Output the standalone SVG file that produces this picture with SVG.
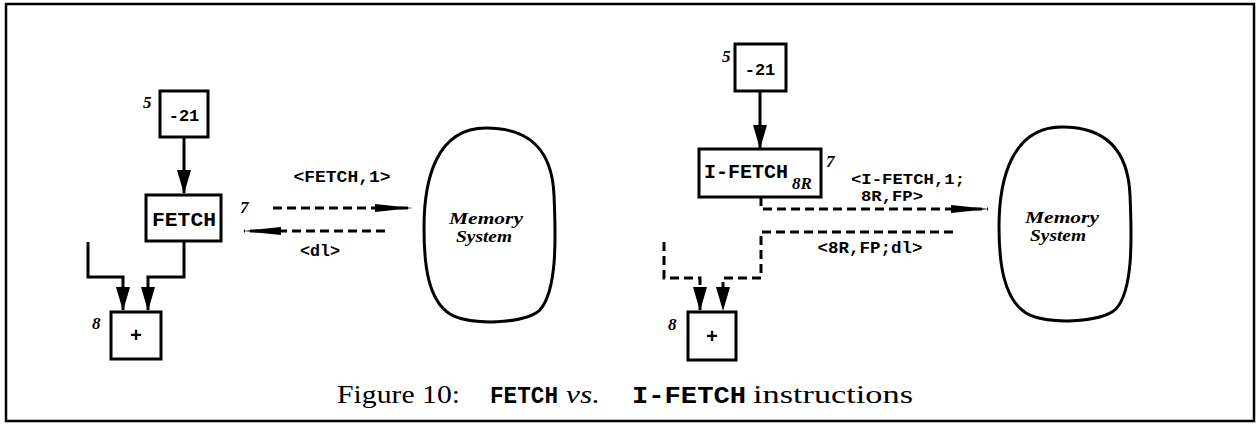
<svg xmlns="http://www.w3.org/2000/svg" width="1257" height="426" viewBox="0 0 1257 426">
<style>
.box{fill:#fff;stroke:#000;stroke-width:3}
.blob{fill:#fff;stroke:#000;stroke-width:3}
.ln{fill:none;stroke:#000;stroke-width:3}
.dash{fill:none;stroke:#000;stroke-width:3;stroke-dasharray:9 5}
.tt{font-family:"Liberation Mono",monospace;font-weight:bold;fill:#000}
.num{font-family:"Liberation Serif",serif;font-style:italic;font-weight:bold;font-size:17px;fill:#000}
.mem{font-family:"Liberation Serif",serif;font-style:italic;font-weight:bold;font-size:17px;fill:#000}
.cap{font-family:"Liberation Serif",serif;font-size:25px;fill:#000}
</style>
<defs>
<marker id="ah" viewBox="0 0 24 14" refX="23" refY="7" markerWidth="24" markerHeight="14" markerUnits="userSpaceOnUse" orient="auto">
<path d="M0,0 L24,7 L0,14 Z" fill="#000"/>
</marker>
<marker id="ahl" viewBox="0 0 38 10" refX="37" refY="5" markerWidth="38" markerHeight="10" markerUnits="userSpaceOnUse" orient="auto">
<path d="M0,1 L38,5 L0,9 Z" fill="#000"/>
</marker>
</defs>
<rect x="6" y="4" width="1248" height="417" fill="#fff" stroke="#000" stroke-width="2.5"/>

<g id="connectors">
<path class="ln" d="M184,137 V193" marker-end="url(#ah)"/>
<path class="ln" d="M88,242 V277 H123 V310" marker-end="url(#ah)"/>
<path class="ln" d="M184,241 V277 H148 V310" marker-end="url(#ah)"/>
<path class="dash" d="M273,208 H412" marker-end="url(#ahl)"/>
<path class="dash" d="M385,231 H244" marker-end="url(#ahl)"/>
<path class="ln" d="M760,91 V148" marker-end="url(#ah)"/>
<path class="dash" d="M761,197 V209 H988" marker-end="url(#ahl)"/>
<path class="dash" d="M953,232 H761 V278 H723 V310" marker-end="url(#ah)"/>
<path class="dash" d="M664,242 V278 H700 V310" marker-end="url(#ah)"/>
</g>

<g id="n-left-21">
<rect class="box" x="160" y="91" width="48" height="46"/>
<text class="tt" x="184" y="121" font-size="17" text-anchor="middle">-21</text>
<text class="num" x="143" y="108">5</text>
</g>
<g id="n-left-fetch">
<rect class="box" x="146" y="195" width="75" height="46"/>
<text class="tt" x="184" y="226" font-size="20" text-anchor="middle" textLength="64" lengthAdjust="spacingAndGlyphs">FETCH</text>
<text class="num" x="240" y="213">7</text>
</g>
<g id="n-left-plus">
<rect class="box" x="111" y="312" width="50" height="47"/>
<text class="tt" x="136" y="342" font-size="20" text-anchor="middle">+</text>
<text class="num" x="92" y="329">8</text>
</g>
<g id="n-left-mem">
<path class="blob" d="M486,128 C530,128 552,150 554,195 C556,240 557,290 540,310 C525,324 470,326 450,314 C428,300 424,265 424,228 C424,180 436,128 486,128 Z"/>
<text class="mem" text-anchor="middle"><tspan x="486" y="224" textLength="74" lengthAdjust="spacingAndGlyphs">Memory</tspan><tspan x="484" y="242" textLength="56" lengthAdjust="spacingAndGlyphs">System</tspan></text>
</g>
<g id="lbl-left">
<text class="tt" x="342" y="182" font-size="16" text-anchor="middle" textLength="97" lengthAdjust="spacingAndGlyphs">&lt;FETCH,1&gt;</text>
<text class="tt" x="320" y="256" font-size="16" text-anchor="middle" textLength="40" lengthAdjust="spacingAndGlyphs">&lt;dl&gt;</text>
</g>

<g id="n-right-21">
<rect class="box" x="735" y="44" width="51" height="47"/>
<text class="tt" x="760" y="75" font-size="17" text-anchor="middle">-21</text>
<text class="num" x="722" y="62">5</text>
</g>
<g id="n-right-ifetch">
<rect class="box" x="699" y="149" width="122" height="48"/>
<text class="tt" x="704" y="178" font-size="20">I-FETCH</text>
<text class="num" x="792" y="189" font-size="18">8R</text>
<text class="num" x="826" y="167">7</text>
</g>
<g id="n-right-plus">
<rect class="box" x="688" y="312" width="48" height="48"/>
<text class="tt" x="712" y="343" font-size="20" text-anchor="middle">+</text>
<text class="num" x="668" y="330">8</text>
</g>
<g id="n-right-mem">
<path class="blob" d="M1062,127 C1106,127 1128,150 1130,195 C1132,240 1133,290 1116,309 C1101,323 1046,325 1026,313 C1004,299 999,264 999,227 C999,179 1012,127 1062,127 Z"/>
<text class="mem" text-anchor="middle"><tspan x="1062" y="223" textLength="74" lengthAdjust="spacingAndGlyphs">Memory</tspan><tspan x="1058" y="241" textLength="56" lengthAdjust="spacingAndGlyphs">System</tspan></text>
</g>
<g id="lbl-right">
<text class="tt" font-size="14" text-anchor="middle"><tspan x="908" y="184" textLength="114" lengthAdjust="spacingAndGlyphs">&lt;I-FETCH,1;</tspan><tspan x="892" y="201" textLength="62" lengthAdjust="spacingAndGlyphs">8R,FP&gt;</tspan></text>
<text class="tt" x="870" y="253" font-size="16" text-anchor="middle" textLength="105" lengthAdjust="spacingAndGlyphs">&lt;8R,FP;dl&gt;</text>
</g>

<g id="caption">
<text class="cap" x="337" y="403" textLength="123" lengthAdjust="spacingAndGlyphs">Figure 10:</text>
<text class="tt" x="490" y="403" font-size="23" textLength="68" lengthAdjust="spacingAndGlyphs">FETCH</text>
<text class="cap" x="566" y="403" font-style="italic" textLength="34" lengthAdjust="spacingAndGlyphs">vs.</text>
<text class="tt" x="632" y="403" font-size="23" textLength="114" lengthAdjust="spacingAndGlyphs">I-FETCH</text>
<text class="cap" x="753" y="403" textLength="160" lengthAdjust="spacingAndGlyphs">instructions</text>
</g>
</svg>
